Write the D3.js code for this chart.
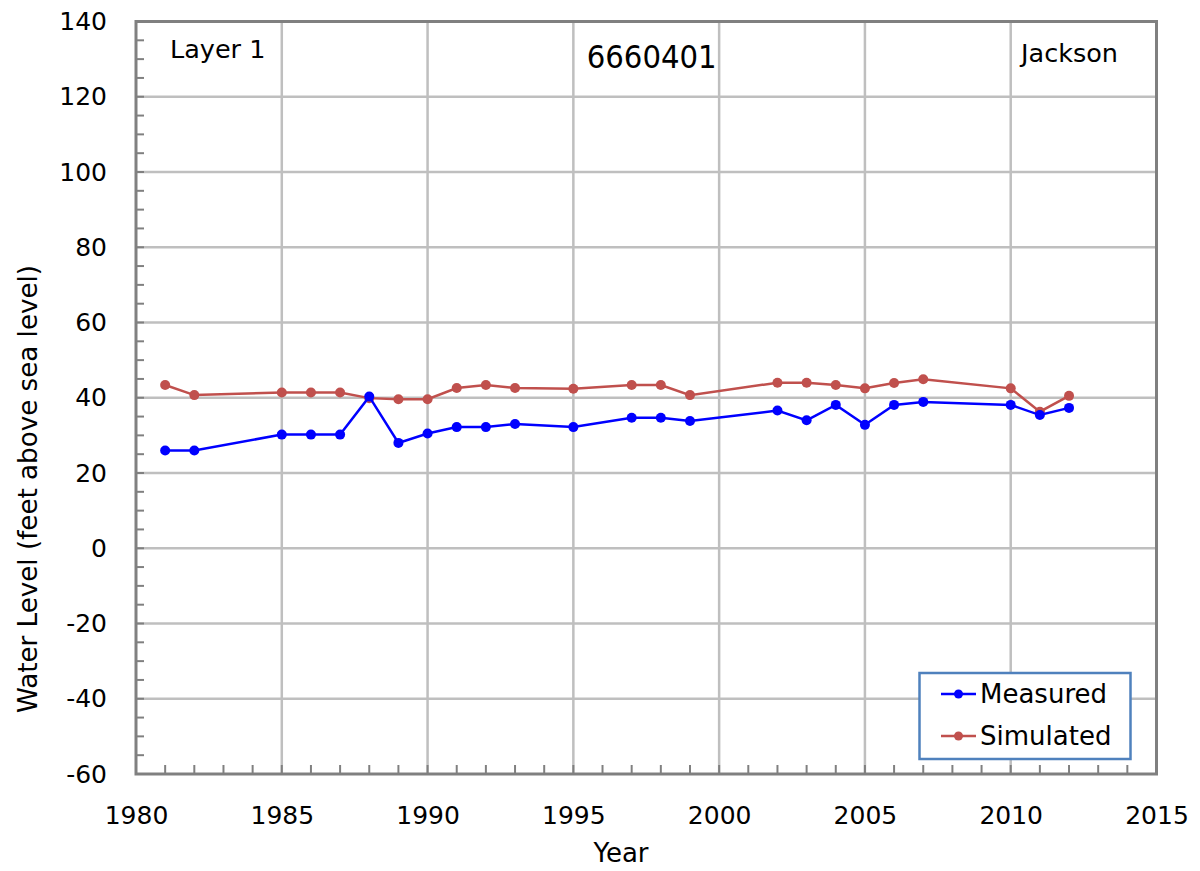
<!DOCTYPE html>
<html><head><meta charset="utf-8">
<script src="https://cdn.jsdelivr.net/npm/d3@7"></script>
<style>body{margin:0;background:#fff}svg{display:block}text{font-family:"DejaVu Sans",sans-serif;fill:#000}</style>
</head><body><svg id="c" width="1200" height="871"></svg>
<script>
const measuredYears = [1981,1982,1985,1986,1987,1988,1989,1990,1991,1992,1993,1995,1997,1998,1999,2002,2003,2004,2005,2006,2007,2010,2011,2012];
const measuredValues = [26,26,30.2,30.2,30.2,40.3,28,30.5,32.2,32.2,33,32.2,34.7,34.7,33.8,36.6,34,38.1,32.8,38.1,38.9,38.1,35.4,37.3];
const simulatedYears = [1981,1982,1985,1986,1987,1988,1989,1990,1991,1992,1993,1995,1997,1998,1999,2002,2003,2004,2005,2006,2007,2010,2011,2012];
const simulatedValues = [43.4,40.7,41.4,41.4,41.4,39.9,39.6,39.6,42.6,43.4,42.6,42.4,43.4,43.4,40.7,44,44,43.4,42.5,43.9,44.9,42.5,36.3,40.5];
const xTicks = [1980,1985,1990,1995,2000,2005,2010,2015];
const yTicks = [140,120,100,80,60,40,20,0,-20,-40,-60];
const seriesNames = ["Measured","Simulated"];

const svg = d3.select("#c");
const L=136, R=1156.5, T=21.5, B=774;
const x = d3.scaleLinear().domain([1980,2015]).range([L,R]);
const y = d3.scaleLinear().domain([-60,140]).range([B,T]);
const grid="#bfbfbf", axc="#808080";

// gridlines
svg.append("g").selectAll("line").data(xTicks.filter(d=>d>1980&&d<2015)).join("line")
  .attr("x1",d=>x(d)).attr("x2",d=>x(d)).attr("y1",T).attr("y2",B)
  .attr("stroke",grid).attr("stroke-width",2.5);
svg.append("g").selectAll("line").data(yTicks.filter(d=>d>-60&&d<140)).join("line")
  .attr("x1",L).attr("x2",R).attr("y1",d=>y(d)).attr("y2",d=>y(d))
  .attr("stroke",grid).attr("stroke-width",2.5);

// minor ticks
const xMinor = d3.range(1981,2015);
svg.append("g").selectAll("line").data(xMinor).join("line")
  .attr("x1",d=>x(d)).attr("x2",d=>x(d)).attr("y1",B).attr("y2",B-9)
  .attr("stroke",axc).attr("stroke-width",2);
const yMinor = d3.range(-55,140,5);
svg.append("g").selectAll("line").data(yMinor).join("line")
  .attr("x1",L).attr("x2",L+8).attr("y1",d=>y(d)).attr("y2",d=>y(d))
  .attr("stroke",axc).attr("stroke-width",2);

// frame
svg.append("rect").attr("x",L).attr("y",T).attr("width",R-L).attr("height",B-T)
  .attr("fill","none").attr("stroke",axc).attr("stroke-width",3);

// axes labels via d3 axis
const xAxis = svg.append("g").attr("transform",`translate(0,${B})`)
  .call(d3.axisBottom(x).tickValues(xTicks).tickFormat(d=>String(d)).tickSize(0).tickPadding(32));
xAxis.select(".domain").remove();
xAxis.selectAll("text").attr("font-size",25).attr("fill","#000").attr("font-family","DejaVu Sans");
const yAxis = svg.append("g").attr("transform",`translate(${L},0)`)
  .call(d3.axisLeft(y).tickValues(yTicks).tickFormat(d=>String(d)).tickSize(0).tickPadding(29));
yAxis.select(".domain").remove();
yAxis.selectAll("text").attr("font-size",25).attr("fill","#000").attr("font-family","DejaVu Sans");

svg.append("text").attr("x",621).attr("y",862).attr("text-anchor","middle")
  .attr("font-size",26).text("Year");
svg.append("text").attr("transform",`translate(37,489) rotate(-90)`).attr("text-anchor","middle")
  .attr("font-size",26).attr("textLength",448).attr("lengthAdjust","spacingAndGlyphs")
  .text("Water Level (feet above sea level)");

svg.append("text").attr("x",170).attr("y",58).attr("font-size",25.5).text("Layer 1");
svg.append("text").attr("x",651.7).attr("y",68).attr("text-anchor","middle").attr("font-size",32)
  .attr("textLength",130).attr("lengthAdjust","spacingAndGlyphs").text("6660401");
svg.append("text").attr("x",1118).attr("y",62).attr("text-anchor","end").attr("font-size",25.5).text("Jackson");

// series
const series = [
  {name:seriesNames[0], years:measuredYears, vals:measuredValues, color:"#0000ff"},
  {name:seriesNames[1], years:simulatedYears, vals:simulatedValues, color:"#c0504d"}
];
const line = d3.line().x(d=>x(d[0])).y(d=>y(d[1]));
[series[1],series[0]].forEach(s=>{
  const pts = s.years.map((yr,i)=>[yr,s.vals[i]]);
  svg.append("path").datum(pts).attr("d",line).attr("fill","none")
    .attr("stroke",s.color).attr("stroke-width",2.5);
  svg.append("g").selectAll("circle").data(pts).join("circle")
    .attr("cx",d=>x(d[0])).attr("cy",d=>y(d[1])).attr("r",5).attr("fill",s.color);
});

// legend
const lg = svg.append("g");
lg.append("rect").attr("x",919.5).attr("y",673).attr("width",211).attr("height",86)
  .attr("fill","#fff").attr("stroke","#4f81bd").attr("stroke-width",2.5);
series.forEach((s,i)=>{
  const yy = 694 + i*42;
  lg.append("line").attr("x1",941).attr("x2",976).attr("y1",yy).attr("y2",yy)
    .attr("stroke",s.color).attr("stroke-width",2.5);
  lg.append("circle").attr("cx",958.5).attr("cy",yy).attr("r",4.5).attr("fill",s.color);
  lg.append("text").attr("x",980).attr("y",yy+9).attr("font-size",26).text(s.name);
});
</script></body></html>
